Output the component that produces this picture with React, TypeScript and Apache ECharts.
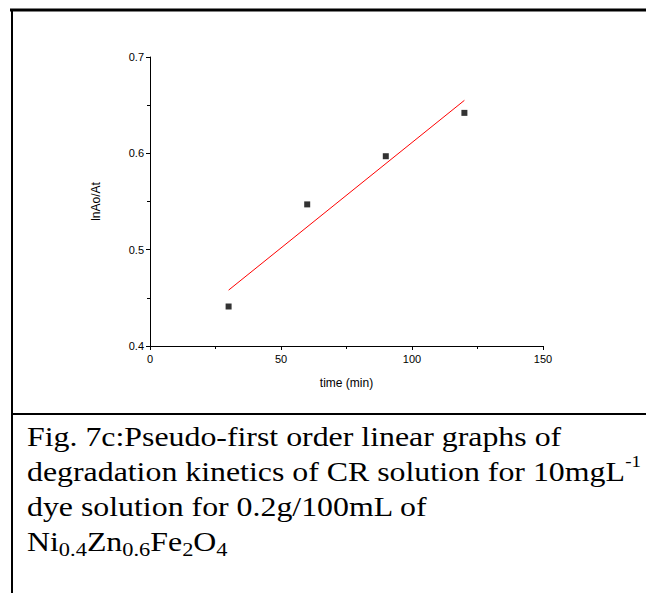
import React, { useEffect, useRef } from "react";
import * as echarts from "echarts";

const timeMin = [30, 60, 90, 120];
const lnAoAt = [0.441, 0.547, 0.597, 0.642];
const fitX = [30, 120];
const fitY = [0.458, 0.655];
const xTicks = [0, 50, 100, 150];
const yTicks = [0.4, 0.5, 0.6, 0.7];

const captionRich =
  "Fig. 7c:Pseudo-first order linear graphs of\n" +
  "degradation kinetics of CR solution for 10mgL{sup|-1}\n" +
  "dye solution for 0.2g/100mL of\n" +
  "Ni{sub|0.4}Zn{sub|0.6}Fe{sub|2}O{sub|4}";

export default function App() {
  const ref = useRef<HTMLDivElement>(null);
  useEffect(() => {
    if (!ref.current) return;
    const chart = echarts.init(ref.current, null, { renderer: "svg" });
    const axisText = { color: "#000", fontFamily: "Liberation Sans", fontSize: 11 };
    chart.setOption({
      animation: false,
      backgroundColor: "#fff",
      grid: { left: 150, top: 57, right: 103, bottom: 247, containLabel: false },
      xAxis: {
        type: "value",
        min: xTicks[0],
        max: xTicks[xTicks.length - 1],
        interval: 50,
        name: "time (min)",
        nameLocation: "middle",
        nameGap: 31,
        nameTextStyle: { ...axisText, fontSize: 12 },
        axisLine: { show: true, onZero: false, lineStyle: { color: "#000", width: 1 } },
        axisTick: { show: true, inside: false, length: 4, lineStyle: { color: "#000" } },
        minorTick: { show: true, splitNumber: 2, length: 3, lineStyle: { color: "#000" } },
        axisLabel: { ...axisText, margin: 7 },
        splitLine: { show: false },
      },
      yAxis: {
        type: "value",
        min: yTicks[0],
        max: yTicks[yTicks.length - 1],
        interval: 0.1,
        name: "lnAo/At",
        nameLocation: "middle",
        nameGap: 48,
        nameTextStyle: { ...axisText, fontSize: 12 },
        axisLine: { show: true, onZero: false, lineStyle: { color: "#000", width: 1 } },
        axisTick: { show: true, inside: false, length: 4, lineStyle: { color: "#000" } },
        minorTick: { show: true, splitNumber: 2, length: 3, lineStyle: { color: "#000" } },
        axisLabel: { ...axisText, margin: 6, formatter: (v: number) => v.toFixed(1) },
        splitLine: { show: false },
      },
      series: [
        {
          type: "line",
          data: fitX.map((x, i) => [x, fitY[i]]),
          showSymbol: false,
          symbol: "none",
          lineStyle: { color: "#ff0000", width: 1 },
          z: 2,
        },
        {
          type: "scatter",
          data: timeMin.map((x, i) => [x, lnAoAt[i]]),
          symbol: "rect",
          symbolSize: 6,
          itemStyle: { color: "#000" },
          z: 3,
        },
      ],
      graphic: [
        { type: "line", shape: { x1: 10, y1: 10, x2: 660, y2: 10 }, style: { stroke: "#000", lineWidth: 3 } },
        { type: "line", shape: { x1: 12, y1: 9, x2: 12, y2: 600 }, style: { stroke: "#000", lineWidth: 2 } },
        { type: "line", shape: { x1: 12, y1: 414, x2: 660, y2: 414 }, style: { stroke: "#000", lineWidth: 2 } },
        {
          type: "text",
          x: 27,
          y: 419,
          scaleX: 1.18,
          style: {
            text: captionRich,
            fontFamily: "Liberation Serif",
            fontSize: 27,
            lineHeight: 35,
            fill: "#000",
            verticalAlign: "top",
            rich: {
              sup: { fontFamily: "Liberation Serif", fontSize: 16, lineHeight: 24, verticalAlign: "top", fill: "#000" },
              sub: { fontFamily: "Liberation Serif", fontSize: 19, lineHeight: 18, verticalAlign: "bottom", fill: "#000" },
            },
          },
        },
      ],
    });
    return () => chart.dispose();
  }, []);
  return (
    <div
      ref={ref}
      style={{ position: "fixed", left: 0, top: 0, width: 646, height: 593 }}
    />
  );
}
